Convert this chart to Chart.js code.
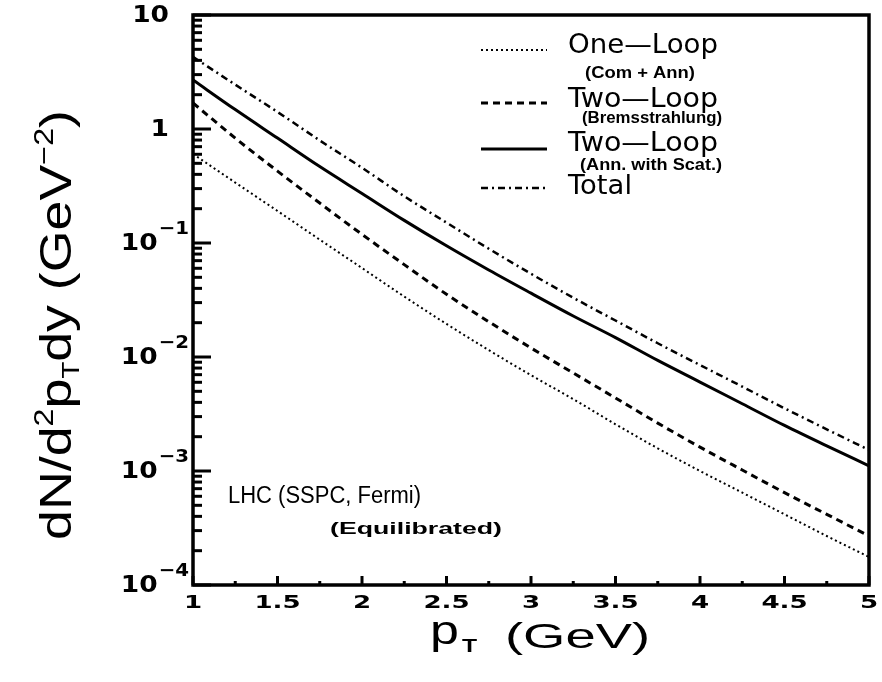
<!DOCTYPE html>
<html>
<head>
<meta charset="utf-8">
<script src="https://cdn.jsdelivr.net/npm/chart.js@4.4.0/dist/chart.umd.min.js"></script>
<style>
html,body{margin:0;padding:0;background:#fff}
</style>
</head>
<body>
<canvas id="c" width="882" height="682"></canvas>
<script>
// p_T (GeV)
const pt = [1, 1.25, 1.5, 1.75, 2, 2.25, 2.5, 2.75, 3, 3.25, 3.5, 3.75, 4, 4.25, 4.5, 4.75, 5];

// dN/d2pTdy (GeV^-2)
const oneLoop = [0.604, 0.339, 0.191, 0.107, 0.0603, 0.0339, 0.0195, 0.0115, 0.00692, 0.00427, 0.00257, 0.00158, 0.00100, 0.000646, 0.000417, 0.000269, 0.000176];
const twoLoopBrems = [1.69, 0.832, 0.427, 0.224, 0.119, 0.0646, 0.0355, 0.0204, 0.0120, 0.00724, 0.00437, 0.00263, 0.00162, 0.00102, 0.000646, 0.000417, 0.000269];
const twoLoopAnn = [2.69, 1.48, 0.832, 0.468, 0.272, 0.158, 0.0945, 0.0580, 0.0363, 0.0229, 0.0148, 0.00933, 0.00603, 0.00389, 0.00251, 0.00166, 0.00111];
const total = [4.29, 2.45, 1.41, 0.794, 0.457, 0.257, 0.151, 0.0891, 0.0537, 0.0331, 0.0209, 0.0132, 0.00851, 0.0055, 0.00355, 0.00232, 0.00153];

// axis ticks
const xTicks = [1, 1.5, 2, 2.5, 3, 3.5, 4, 4.5, 5];
const xTickLabels = ['1', '1.5', '2', '2.5', '3', '3.5', '4', '4.5', '5'];
const yTicks = [10, 1, 0.1, 0.01, 0.001, 0.0001];
const yTickExp = ['', '', '-1', '-2', '-3', '-4'];

const dotted = [2, 3];
const dashed = [7, 5];
const dashDot = [7, 4, 2, 4];

function toPoints(ys) {
    return pt.map((x, i) => ({x: x, y: ys[i]}));
}

// text stretched to a given width (ROOT fonts are wider than ours)
function fitText(ctx, text, x, y, w, font) {
    ctx.font = font;
    let m = ctx.measureText(text).width;
    ctx.save();
    ctx.translate(x, y);
    ctx.scale(w / m, 1);
    ctx.textAlign = 'left';
    ctx.fillText(text, 0, 0);
    ctx.restore();
}

function scaledText(ctx, text, x, y, sx, font, align) {
    ctx.font = font;
    let m = ctx.measureText(text).width * sx;
    let x0 = align == 'center' ? x - m / 2 : (align == 'right' ? x - m : x);
    ctx.save();
    ctx.translate(x0, y);
    ctx.scale(sx, 1);
    ctx.textAlign = 'left';
    ctx.fillText(text, 0, 0);
    ctx.restore();
    return m;
}

const rootFrame = {
    id: 'rootFrame',
    afterDraw(chart) {
        const ctx = chart.ctx;
        const a = chart.chartArea;
        const xs = chart.scales.x, ys = chart.scales.y;
        ctx.save();
        ctx.fillStyle = '#000';
        ctx.strokeStyle = '#000';

        // frame
        ctx.lineWidth = 3.5;
        ctx.strokeRect(a.left, a.top, a.right - a.left, a.bottom - a.top);

        // x ticks
        ctx.lineWidth = 3;
        for (let v = 1; v <= 5.001; v += 0.25) {
            const px = xs.getPixelForValue(v);
            const major = Math.abs(v * 2 - Math.round(v * 2)) < 1e-6;
            ctx.beginPath();
            ctx.moveTo(px, a.bottom);
            ctx.lineTo(px, a.bottom - (major ? 9 : 4));
            ctx.stroke();
        }
        // y ticks
        for (let e = -4; e < 1; e++) {
            for (let m = 1; m < 10; m++) {
                const py = ys.getPixelForValue(m * Math.pow(10, e));
                ctx.beginPath();
                ctx.moveTo(a.left, py);
                ctx.lineTo(a.left + (m == 1 ? 18 : 9), py);
                ctx.stroke();
            }
        }
        let pyTop = ys.getPixelForValue(10);
        ctx.beginPath(); ctx.moveTo(a.left, pyTop); ctx.lineTo(a.left + 18, pyTop); ctx.stroke();

        // x tick labels
        ctx.textBaseline = 'middle';
        xTicks.forEach((v, i) => {
            scaledText(ctx, xTickLabels[i], xs.getPixelForValue(v), a.bottom + 18, 1.45, 'bold 18px "DejaVu Sans"', 'center');
        });

        // y tick labels
        yTicks.forEach((v, i) => {
            const py = ys.getPixelForValue(v);
            if (yTickExp[i] == '') {
                scaledText(ctx, v == 10 ? '10' : '1', 169, py + 1, 1.15, 'bold 23px "DejaVu Sans"', 'right');
            } else {
                let w = scaledText(ctx, yTickExp[i].replace('-', '\u2212'), 189, py - 14, 1.1, 'bold 18px "DejaVu Sans"', 'right');
                scaledText(ctx, '10', 189 - w - 1, py + 1, 1.15, 'bold 23px "DejaVu Sans"', 'right');
            }
        });

        // x title
        ctx.textBaseline = 'alphabetic';
        scaledText(ctx, 'p', 430, 644, 1.3, '40px "Liberation Sans"', 'left');
        scaledText(ctx, 'T', 462, 652, 1.3, 'bold 19px "Liberation Sans"', 'left');
        fitText(ctx, '(GeV)', 505, 648, 145, '35px "Liberation Sans"');

        // y title, rotated
        ctx.save();
        ctx.translate(71, 540);
        ctx.rotate(-Math.PI / 2);
        const parts = [
            ['dN/d', '45px "Liberation Sans"', 0],
            ['2', '27px "Liberation Sans"', -18],
            ['p', '45px "Liberation Sans"', 0],
            ['T', '23px "Liberation Sans"', 8],
            ['dy (GeV', '45px "Liberation Sans"', 0],
            ['\u22122', '27px "Liberation Sans"', -18],
            [')', '45px "Liberation Sans"', 0]
        ];
        let tw = 0;
        parts.forEach(p => { ctx.font = p[1]; tw += ctx.measureText(p[0]).width; });
        ctx.scale(430 / tw, 1);
        let cx = 0;
        parts.forEach(p => {
            ctx.font = p[1];
            ctx.fillText(p[0], cx, p[2]);
            cx += ctx.measureText(p[0]).width;
        });
        ctx.restore();

        // legend
        const leg = [
            [dotted, 2, 50, 'One\u2014Loop', 53, '(Com + Ann)', 78, 585, 110],
            [dashed, 3, 103, 'Two\u2014Loop', 107, '(Bremsstrahlung)', 123, 582, 140],
            [[], 3, 149, 'Two\u2014Loop', 151, '(Ann. with Scat.)', 170, 580, 142],
            [dashDot, 2.5, 188, 'Total', 194, '', 0, 0, 0]
        ];
        leg.forEach(l => {
            ctx.setLineDash(l[0]);
            ctx.lineWidth = l[1];
            ctx.beginPath();
            ctx.moveTo(481, l[2]);
            ctx.lineTo(547, l[2]);
            ctx.stroke();
            ctx.setLineDash([]);
            fitText(ctx, l[3], 568, l[4], l[3] == 'Total' ? 64 : 150, '27px "DejaVu Sans"');
            if (l[5]) {
                fitText(ctx, l[5], l[7], l[6], l[8], 'bold 16px "Liberation Sans"');
            }
        });

        // annotation
        fitText(ctx, 'LHC (SSPC, Fermi)', 228, 503, 193, '23px "Liberation Sans"');
        fitText(ctx, '(Equilibrated)', 330, 534, 172, 'bold 17px "Liberation Sans"');
        ctx.restore();
    }
};

const data = {
    datasets: [
        {label: 'One-Loop (Com + Ann)', data: toPoints(oneLoop), borderColor: '#000', borderWidth: 2, borderDash: dotted},
        {label: 'Two-Loop (Bremsstrahlung)', data: toPoints(twoLoopBrems), borderColor: '#000', borderWidth: 3, borderDash: dashed},
        {label: 'Two-Loop (Ann. with Scat.)', data: toPoints(twoLoopAnn), borderColor: '#000', borderWidth: 3},
        {label: 'Total', data: toPoints(total), borderColor: '#000', borderWidth: 2.5, borderDash: dashDot}
    ]
};

const config = {
    type: 'line',
    data: data,
    options: {
        responsive: false,
        animation: false,
        devicePixelRatio: 1,
        layout: {padding: {left: 193, right: 13, top: 15, bottom: 97}},
        elements: {point: {radius: 0}, line: {cubicInterpolationMode: 'monotone', fill: false}},
        plugins: {legend: {display: false}, tooltip: {enabled: false}},
        scales: {
            x: {type: 'linear', min: 1, max: 5, display: false},
            y: {type: 'logarithmic', min: 0.0001, max: 10, display: false}
        }
    },
    plugins: [rootFrame]
};

let ctx = document.getElementById('c').getContext('2d');
new Chart(ctx, config);
</script>
</body>
</html>
